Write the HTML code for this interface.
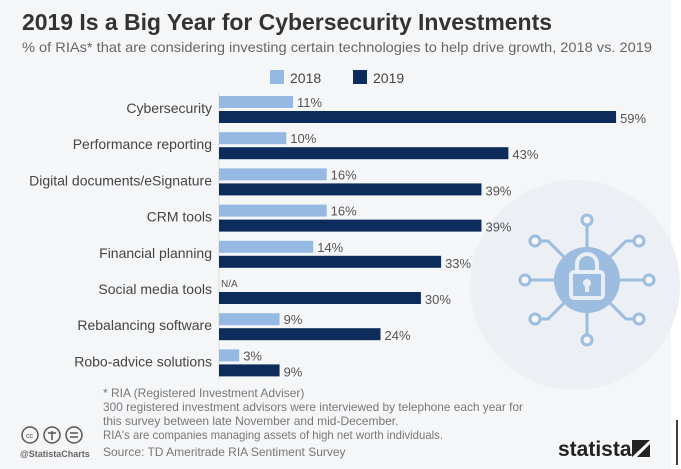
<!DOCTYPE html>
<html><head><meta charset="utf-8"><style>
body{margin:0;width:681px;height:469px;overflow:hidden;background:#fff;font-family:"Liberation Sans",sans-serif}
#card{position:absolute;left:0;top:0;width:671px;height:469px;background:#f5f6f8}
</style></head><body>
<div id="card"></div>
<svg id="svg" width="681" height="469" style="position:absolute;left:0;top:0">
<g id="icon" stroke="#9dbde0" fill="none" stroke-width="3">
 <circle cx="575" cy="285" r="105" fill="#eceff4" stroke="none"/>
 <path d="M587 247V225 M587 313V335 M554 280H530 M620 280H644 M564 257L548 241L540 241 M610 257L626 241L634 241 M564 303L548 319L540 319 M610 303L626 319L634 319"/>
 <circle cx="587" cy="220" r="5" fill="#f5f6f8"/><circle cx="587" cy="340" r="5" fill="#f5f6f8"/>
 <circle cx="525" cy="280" r="5" fill="#f5f6f8"/><circle cx="649" cy="280" r="5" fill="#f5f6f8"/>
 <circle cx="535" cy="241" r="5" fill="#f5f6f8"/><circle cx="639" cy="241" r="5" fill="#f5f6f8"/>
 <circle cx="535" cy="319" r="5" fill="#f5f6f8"/><circle cx="639" cy="319" r="5" fill="#f5f6f8"/>
 <circle cx="587" cy="280" r="33" fill="#9dbde0" stroke="none"/>
 <path d="M577 272v-8a10 10 0 0 1 20 0v8" stroke="#e8eef6" stroke-width="4"/>
 <rect x="571" y="272" width="32" height="26" rx="3" fill="none" stroke="#e8eef6" stroke-width="4"/>
 <circle cx="587" cy="283" r="4" fill="#e8eef6" stroke="none"/><rect x="585" y="284" width="4" height="8" fill="#e8eef6" stroke="none"/>
</g>
<text x="22" y="30" font-size="23" font-weight="bold" fill="#333" textLength="530">2019 Is a Big Year for Cybersecurity Investments</text>
<text x="22" y="52" font-size="14" fill="#666" textLength="630" lengthAdjust="spacingAndGlyphs">% of RIAs* that are considering investing certain technologies to help drive growth, 2018 vs. 2019</text>
<rect x="270" y="70" width="14" height="14" fill="#96b9e4"/>
<text x="290" y="83" font-size="14" fill="#444">2018</text>
<rect x="353" y="70" width="14" height="14" fill="#0d2c5c"/>
<text x="373" y="83" font-size="14" fill="#444">2019</text>
<line x1="219" y1="92" x2="219" y2="380" stroke="#ddd"/>
<g id="bars"></g>
<g font-size="12" fill="#777">
<text x="103" y="397">* RIA (Registered Investment Adviser)</text>
<text x="103" y="411" textLength="420" lengthAdjust="spacingAndGlyphs">300 registered investment advisors were interviewed by telephone each year for</text>
<text x="103" y="425">this survey between late November and mid-December.</text>
<text x="103" y="439" textLength="340" lengthAdjust="spacingAndGlyphs">RIA's are companies managing assets of high net worth individuals.</text>
<text x="103" y="456">Source: TD Ameritrade RIA Sentiment Survey</text>
</g>
<g stroke="#555" fill="none" stroke-width="1.5">
<circle cx="30" cy="435" r="8"/><circle cx="52" cy="435" r="8"/><circle cx="74" cy="435" r="8"/>
<path d="M70 433h8M70 437h8M52 431v9M48 433h8"/>
</g>
<text x="26" y="438" font-size="7" fill="#555">cc</text>
<text x="20" y="457" font-size="9" font-weight="bold" fill="#666">@StatistaCharts</text>
<text x="558" y="456" font-size="21" font-weight="bold" fill="#222">statista</text>
<path d="M632 440h18l-18 17z M650 444v13h-13z" fill="#222"/>
<line x1="677" y1="420" x2="677" y2="465" stroke="#000" stroke-width="1.5"/>
</svg>
<script>
const categories=["Cybersecurity","Performance reporting","Digital documents/eSignature","CRM tools","Financial planning","Social media tools","Rebalancing software","Robo-advice solutions"];
const values2018=[11,10,16,16,14,null,9,3];
const values2019=[59,43,39,39,33,30,24,9];
const NS="http://www.w3.org/2000/svg";
const g=document.getElementById('bars');
const x=v=>219+v*6.73;
const rowY=i=>96+i*36.2;
function mk(t,a){const e=document.createElementNS(NS,t);for(const k in a)e.setAttribute(k,a[k]);g.appendChild(e);return e;}
categories.forEach((c,i)=>{
 const y=rowY(i);
 const l=mk('text',{x:212,y:y+17,'font-size':14,fill:'#444','text-anchor':'end'});l.textContent=c;
 
 
 const v1=values2018[i];
 if(v1!=null){
  const b=mk('rect',{x:219,y:y,width:x(v1)-219,height:12,fill:'#96b9e4'});
  
  
 }
 const t1=mk('text',{x:v1!=null?x(v1)+4:221,y:y+(v1!=null?11:10),'font-size':v1!=null?13:10,fill:'#555'});t1.textContent=v1!=null?v1+'%':'N/A';
 
 
 const v2=values2019[i];
 const b2=mk('rect',{x:219,y:y+15,width:x(v2)-219,height:12,fill:'#0d2c5c'});
 
 
 const t2=mk('text',{x:x(v2)+4,y:y+27,'font-size':13,fill:'#555'});t2.textContent=v2+'%';
 
 
});
</script>
</body></html>
